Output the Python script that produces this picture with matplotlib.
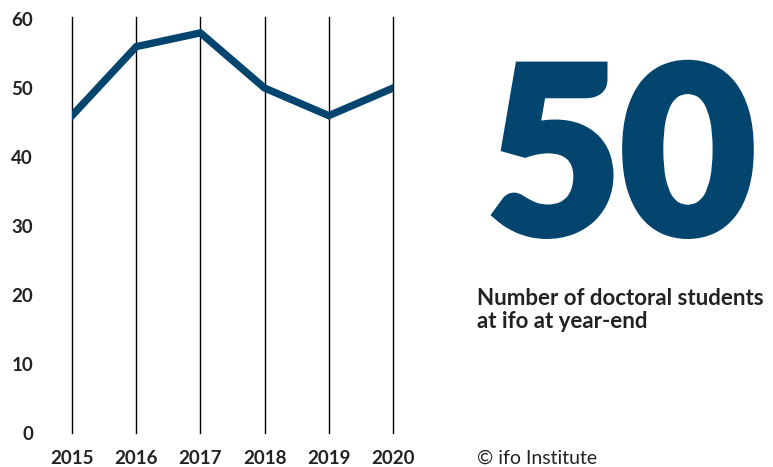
import matplotlib.pyplot as plt
import matplotlib.patheffects as pe

years = [2015, 2016, 2017, 2018, 2019, 2020]
students = [46, 56, 58, 50, 46, 50]
yticks = [0, 10, 20, 30, 40, 50, 60]
big_number = "50"
caption = "Number of doctoral students\nat ifo at year-end"
source = "\u00a9 ifo Institute"

blue = "#03456f"
dark = "#222222"

plt.rcParams["font.family"] = ["Lato", "DejaVu Sans"]

W, H = 773, 467
fig = plt.figure(figsize=(W / 100, H / 100), dpi=100)
ax = fig.add_axes([72 / W, (H - 433) / H, (393 - 72) / W, (433 - 17) / H])

ax.plot(years, students, color=blue, lw=5.3, solid_joinstyle="miter", zorder=3)
ax.set_xlim(2015, 2020)
ax.set_ylim(0, 60.3)
ax.set_xticks(years)
ax.set_yticks(yticks)
ax.grid(axis="x", color="black", lw=1)
for g in ax.get_xgridlines():
    g.set_clip_on(False)
for s in ax.spines.values():
    s.set_visible(False)
ax.tick_params(length=0, labelsize=13.5, labelcolor=dark)
ax.tick_params(axis="y", pad=28)
ax.tick_params(axis="x", pad=12)
for lab in ax.get_xticklabels() + ax.get_yticklabels():
    lab.set_fontweight("bold")

fig.text(621 / W, 1 - 166 / H, big_number, color=blue, fontsize=166,
         fontweight="black", ha="center", va="center",
         path_effects=[pe.withStroke(linewidth=6, foreground=blue,
                                     joinstyle="miter")])
fig.text(477 / W, 1 - 310 / H, caption, color=dark, fontsize=16,
         fontweight="bold", ha="left", va="center", linespacing=1.15)
fig.text(477 / W, 1 - 458 / H, source, color=dark, fontsize=14,
         ha="left", va="center")

fig.savefig("out.png", dpi=100)
